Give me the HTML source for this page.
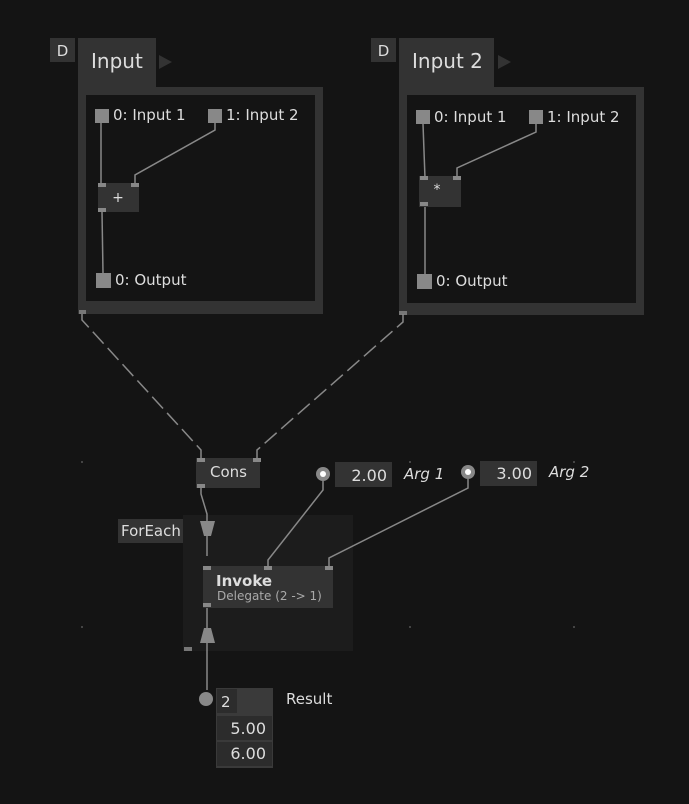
<!DOCTYPE html>
<html><head><meta charset="utf-8"><style>
html,body{margin:0;padding:0;background:#141414;width:689px;height:804px;overflow:hidden}
svg{display:block}
text{font-family:"DejaVu Sans","Liberation Sans",sans-serif;fill:#ddd}
</style></head><body>
<svg width="689" height="804" viewBox="0 0 689 804">
<rect width="689" height="804" fill="#141414"/>
<g fill="#444">
<rect x="81" y="461" width="2" height="2"/><rect x="245" y="461" width="2" height="2"/><rect x="409" y="461" width="2" height="2"/><rect x="573" y="461" width="2" height="2"/>
<rect x="81" y="626" width="2" height="2"/><rect x="409" y="626" width="2" height="2"/><rect x="573" y="626" width="2" height="2"/>
</g>
<!-- Input 1 -->
<rect x="50" y="38" width="25" height="24" fill="#333"/><text x="62.5" y="56" font-size="15" text-anchor="middle">D</text>
<rect x="78" y="38" width="78" height="50" fill="#333"/><text x="91" y="68" font-size="20">Input</text>
<polygon points="159,55 172,62 159,69" fill="#333"/>
<rect x="78" y="87" width="245" height="227" fill="#333"/>
<rect x="86" y="95" width="229" height="206" fill="#141414"/>
<rect x="79" y="310" width="7" height="4" fill="#777"/>
<g stroke="#888" stroke-width="1.5" fill="none">
<path d="M101,123 V183"/><path d="M215,123 V130 L135,175 V183"/><path d="M102,212 L103,273"/>
</g>
<rect x="95" y="109" width="14" height="14" fill="#888"/><text x="113" y="120" font-size="15">0: Input 1</text>
<rect x="208" y="109" width="14" height="14" fill="#888"/><text x="226" y="120" font-size="15">1: Input 2</text>
<rect x="98" y="183" width="41" height="29" fill="#333"/>
<rect x="98" y="183" width="8" height="4" fill="#888"/><rect x="131" y="183" width="8" height="4" fill="#888"/><rect x="98" y="208" width="8" height="4" fill="#888"/>
<text x="118" y="202" font-size="14" text-anchor="middle">+</text>
<rect x="96" y="273" width="15" height="15" fill="#888"/><text x="115" y="285" font-size="15">0: Output</text>
<!-- Input 2 -->
<rect x="371" y="38" width="25" height="24" fill="#333"/><text x="383.5" y="56" font-size="15" text-anchor="middle">D</text>
<rect x="399" y="38" width="95" height="50" fill="#333"/><text x="412" y="68" font-size="20">Input 2</text>
<polygon points="498,55 511,62 498,69" fill="#333"/>
<rect x="399" y="87" width="245" height="228" fill="#333"/>
<rect x="407" y="95" width="229" height="208" fill="#141414"/>
<rect x="399" y="311" width="8" height="4" fill="#777"/>
<g stroke="#888" stroke-width="1.5" fill="none">
<path d="M423,124 L425,178"/><path d="M536,124 V132 L457,168 V178"/><path d="M425,206 V275"/>
</g>
<rect x="416" y="110" width="14" height="14" fill="#888"/><text x="434" y="122" font-size="15">0: Input 1</text>
<rect x="529" y="110" width="14" height="14" fill="#888"/><text x="547" y="122" font-size="15">1: Input 2</text>
<rect x="419" y="176" width="42" height="31" fill="#333"/>
<rect x="420" y="176" width="8" height="4" fill="#888"/><rect x="453" y="176" width="8" height="4" fill="#888"/><rect x="420" y="202" width="8" height="4" fill="#888"/>
<text x="437" y="194" font-size="14" text-anchor="middle">*</text>
<rect x="417" y="274" width="15" height="15" fill="#888"/><text x="436" y="286" font-size="15">0: Output</text>
<!-- dashed -->
<g stroke="#888" stroke-width="1.5" fill="none" stroke-dasharray="16,6">
<path d="M82,314 V320 L201,450 V458"/><path d="M403,314 V322 L257,450 V458"/>
</g>
<!-- Cons -->
<rect x="196" y="458" width="64" height="30" fill="#333"/>
<rect x="197" y="458" width="8" height="4" fill="#888"/><rect x="253" y="458" width="8" height="4" fill="#888"/><rect x="197" y="484" width="8" height="4" fill="#888"/>
<text x="210" y="477" font-size="15">Cons</text>
<!-- ForEach -->
<rect x="183" y="515" width="170" height="136" fill="#1c1c1c"/>
<rect x="118" y="519" width="65" height="24" fill="#333"/><text x="121" y="536" font-size="15">ForEach</text>
<g stroke="#888" stroke-width="1.5" fill="none">
<path d="M201,488 V494 L207,514 V556"/><path d="M207,608 V690"/>
<path d="M323,481 V490 L268,560 V566"/><path d="M468,479 V488 L329,558 V566"/>
</g>
<polygon points="200,521 215,521 211,536 204,536" fill="#888"/>
<polygon points="204,628 211,628 215,643 200,643" fill="#888"/>
<rect x="184" y="647" width="8" height="4" fill="#777"/>
<!-- Invoke -->
<rect x="203" y="566" width="130" height="42" fill="#333"/>
<rect x="203" y="566" width="8" height="4" fill="#888"/><rect x="264" y="566" width="8" height="4" fill="#888"/><rect x="325" y="566" width="8" height="4" fill="#888"/><rect x="203" y="603" width="8" height="4" fill="#888"/>
<text x="216" y="586" font-size="15" font-weight="bold">Invoke</text>
<text x="217" y="600" font-size="12" style="fill:#aaa">Delegate (2 -&gt; 1)</text>
<!-- Args -->
<circle cx="323" cy="474" r="7" fill="#888"/>
<circle cx="323" cy="474" r="3" fill="#fff"/>
<rect x="335" y="462" width="57" height="25" fill="#333"/><text x="387" y="481" font-size="16" text-anchor="end">2.00</text>
<text x="404" y="479" font-size="15" font-style="italic">Arg 1</text>
<circle cx="468" cy="472" r="7" fill="#888"/>
<circle cx="468" cy="472" r="3" fill="#fff"/>
<rect x="480" y="461" width="57" height="25" fill="#333"/><text x="532" y="479" font-size="16" text-anchor="end">3.00</text>
<text x="549" y="477" font-size="15" font-style="italic">Arg 2</text>
<!-- Result -->
<circle cx="206" cy="699" r="7" fill="#888"/>
<rect x="216" y="688" width="57" height="80" fill="#3a3a3a"/>
<rect x="217" y="689" width="20" height="24" fill="#2c2c2c"/><text x="221" y="707" font-size="15">2</text>
<rect x="217" y="716" width="55" height="24" fill="#2c2c2c"/><text x="266" y="734" font-size="16" text-anchor="end">5.00</text>
<rect x="217" y="742" width="55" height="24" fill="#2c2c2c"/><text x="266" y="759" font-size="16" text-anchor="end">6.00</text>
<text x="286" y="704" font-size="15">Result</text>
</svg>
</body></html>
